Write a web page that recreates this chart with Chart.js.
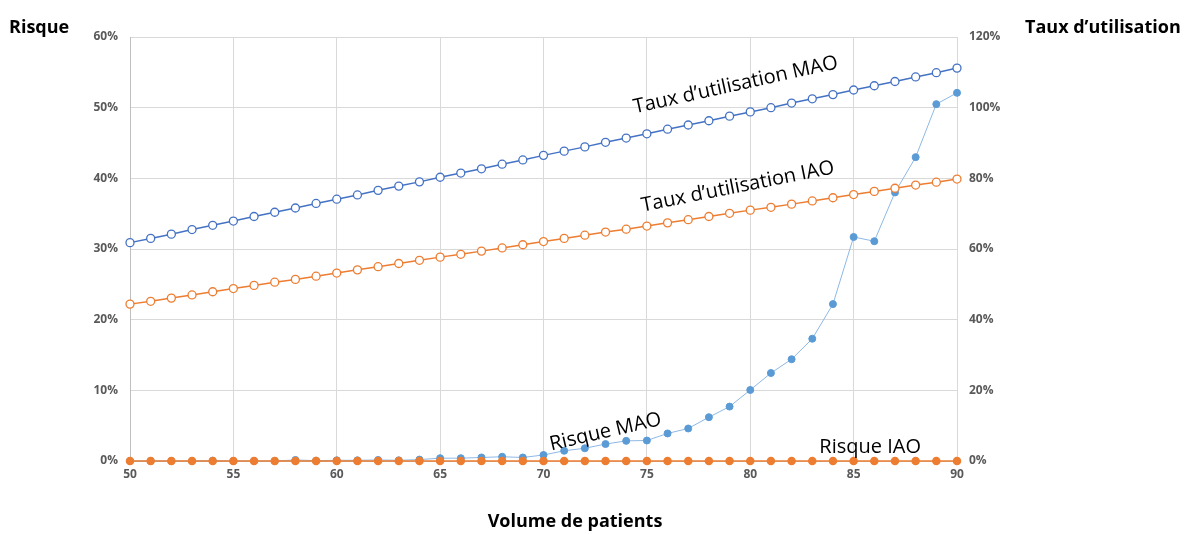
<!DOCTYPE html>
<html>
<head>
<meta charset="utf-8">
<script src="https://cdn.jsdelivr.net/npm/chart.js@4/dist/chart.umd.min.js"></script>
<style>
  html, body { margin: 0; padding: 0; background: #fff; }
  #wrap { width: 1192px; height: 534px; }
</style>
</head>
<body>
<div id="wrap"><canvas id="mycanvas"></canvas></div>
<script>
// volume de patients
var volumes = [50,51,52,53,54,55,56,57,58,59,60,61,62,63,64,65,66,67,68,69,70,
               71,72,73,74,75,76,77,78,79,80,81,82,83,84,85,86,87,88,89,90];

// risque (axe gauche, %)
var risqueMAO = [0,0,0,0,0.05,0,0,0,0.15,0.05,0.1,0.1,0.15,0.1,0.2,0.4,0.4,0.5,0.6,0.5,0.85,
                 1.45,1.8,2.4,2.85,2.9,3.9,4.6,6.2,7.7,10.05,12.45,14.4,17.3,22.2,31.7,31.1,38.0,43.0,50.5,52.1];
var risqueIAO = [0,0,0,0,0,0,0,0,0,0,0,0,0,0,0,0,0,0,0,0,0,
                 0,0,0,0,0,0,0,0,0,0,0,0,0,0,0,0,0,0,0,0];

// taux d'utilisation (axe droit, %)
var tauxMAO = [61.8,63.0,64.2,65.5,66.7,67.9,69.2,70.4,71.6,72.9,74.1,75.3,76.6,77.8,79.0,80.3,81.5,82.7,84.0,85.2,86.5,
               87.7,88.9,90.2,91.4,92.6,93.9,95.1,96.3,97.6,98.8,100.0,101.3,102.5,103.7,105.0,106.2,107.4,108.7,109.9,111.2];
var tauxIAO = [44.4,45.2,46.1,47.0,47.9,48.8,49.7,50.6,51.4,52.3,53.2,54.1,55.0,55.9,56.8,57.7,58.5,59.4,60.3,61.2,62.1,
               63.0,63.9,64.8,65.6,66.5,67.4,68.3,69.2,70.1,71.0,71.8,72.7,73.6,74.5,75.4,76.3,77.2,78.1,78.9,79.8];

// étiquettes posées dans le graphique (coordonnées en données: volume, risque %)
var labelTexts = ["Taux d\u2019utilisation MAO", "Taux d\u2019utilisation IAO", "Risque MAO", "Risque IAO"];
var labelX = [79.3, 79.4, 73.0, 85.8];
var labelY = [53.2, 38.8, 4.1, 2.0];
var labelAngle = [-12.5, -11.3, -13, 0];

function pts(ys) {
  var out = [];
  for (var i in volumes) out.push({x: volumes[i], y: ys[i]});
  return out;
}

var tickFont = {family: "'Open Sans', sans-serif", size: 12, weight: 'bold'};

var extraText = {
  id: 'extraText',
  afterDatasetsDraw: function(chart) {
    var c = chart.ctx, xs = chart.scales.x, ys = chart.scales.y;
    c.save();
    c.fillStyle = '#000';
    c.font = "20px 'Open Sans', sans-serif";
    c.textAlign = 'center';
    c.textBaseline = 'middle';
    for (var i in labelTexts) {
      c.save();
      c.translate(xs.getPixelForValue(labelX[i]), ys.getPixelForValue(labelY[i]));
      c.rotate(labelAngle[i] * Math.PI / 180);
      c.fillText(labelTexts[i], 0, 0);
      c.restore();
    }
    c.font = "bold 18px 'Open Sans', sans-serif";
    c.textAlign = 'left';
    c.fillText('Risque', 9, 28);
    c.fillText('Taux d\u2019utilisation', 1025, 28);
    c.textAlign = 'center';
    c.fillText('Volume de patients', 575, 522);
    c.restore();
  }
};

var chartdata = {
  datasets: [
    {
      label: "Taux d'utilisation MAO",
      yAxisID: 'y2',
      data: pts(tauxMAO),
      borderColor: "#4472C4",
      backgroundColor: "#ffffff",
      pointBorderColor: "#4472C4",
      borderWidth: 1.5,
      pointRadius: 4,
      pointBorderWidth: 1.3,
      tension: 0,
      clip: false
    },
    {
      label: "Taux d'utilisation IAO",
      yAxisID: 'y2',
      data: pts(tauxIAO),
      borderColor: "#ED7D31",
      backgroundColor: "#ffffff",
      pointBorderColor: "#ED7D31",
      borderWidth: 1.5,
      pointRadius: 4,
      pointBorderWidth: 1.3,
      tension: 0,
      clip: false
    },
    {
      label: "Risque IAO",
      yAxisID: 'y',
      data: pts(risqueIAO),
      borderColor: "#ED7D31",
      backgroundColor: "#ED7D31",
      pointBorderColor: "#ED7D31",
      borderWidth: 1.5,
      pointRadius: 3.5,
      tension: 0,
      clip: false
    },
    {
      label: "Risque MAO",
      yAxisID: 'y',
      data: pts(risqueMAO),
      borderColor: "#8DB8E6",
      backgroundColor: "#5B9BD5",
      pointBorderColor: "#5B9BD5",
      borderWidth: 1,
      pointRadius: 3.5,
      tension: 0,
      clip: false
    }
  ]
};

var ctx = document.getElementById('mycanvas');
var LineGraph = new Chart(ctx, {
  type: 'line',
  data: chartdata,
  plugins: [extraText],
  options: {
    responsive: true,
    maintainAspectRatio: false,
    animation: false,
    layout: {padding: {top: 37, left: 0, right: 0, bottom: 0}},
    plugins: {legend: {display: false}, tooltip: {enabled: false}},
    scales: {
      x: {
        type: 'linear',
        min: 50, max: 90,
        ticks: {stepSize: 5, color: '#595959', font: tickFont, padding: 6},
        grid: {color: '#d9d9d9', drawTicks: false},
        border: {color: '#bfbfbf'},
        afterFit: function(s) { s.height = 73; }
      },
      y: {
        position: 'left',
        min: 0, max: 60,
        ticks: {stepSize: 10, color: '#595959', font: tickFont, padding: 12,
                callback: function(v) { return v + '%'; }},
        grid: {color: '#d9d9d9', drawTicks: false},
        border: {color: '#bfbfbf'},
        afterFit: function(s) { s.width = 130; }
      },
      y2: {
        position: 'right',
        min: 0, max: 120,
        ticks: {stepSize: 20, color: '#595959', font: tickFont, padding: 12,
                callback: function(v) { return v + '%'; }},
        grid: {display: false, drawTicks: false},
        border: {display: false},
        afterFit: function(s) { s.width = 235; }
      }
    }
  }
});
</script>
</body>
</html>
